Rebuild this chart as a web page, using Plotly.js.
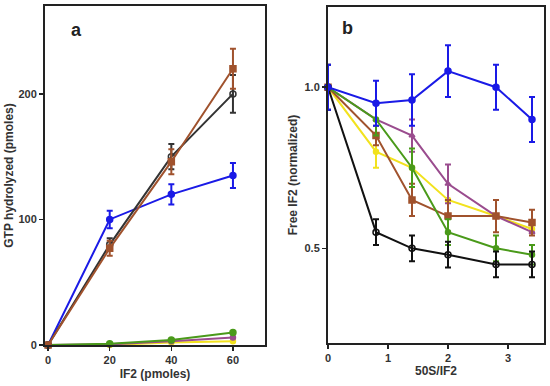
<!DOCTYPE html>
<html><head><meta charset="utf-8">
<script src="https://cdn.plot.ly/plotly-3.0.1.min.js"></script>
<style>html,body{margin:0;padding:0;background:#fff}#c{width:550px;height:386px}</style>
</head><body><div id="c"></div>
<script>
// Panel a
const xA = [0, 20, 40, 60];
const aBlue = [0, 100, 120, 135];
const aBlueErr = [0, 7, 8, 10];
const aBrown = [0, 77, 146, 220];
const aBrownErr = [0, 6, 10, 16];
const aBlack = [0, 80, 150, 200];
const aBlackErr = [0, 5, 10, 15];
const aGreen = [0, 1, 4, 10];
const aPurple = [0, 0.5, 3, 6];
const aYellow = [0, 0, 2, 3];

// Panel b
const xB = [0, 0.8, 1.4, 2, 2.8, 3.4];
const bBlue = [1.0, 0.95, 0.96, 1.05, 1.0, 0.90];
const bBlueErr = [0.07, 0.07, 0.08, 0.08, 0.07, 0.07];
const bBlack = [1.0, 0.55, 0.50, 0.48, 0.45, 0.45];
const bBlackErr = [0.07, 0.04, 0.04, 0.04, 0.04, 0.04];
const bGreen = [1.0, 0.90, 0.75, 0.55, 0.50, 0.48];
const bGreenErr = [0, 0.05, 0.06, 0.04, 0.04, 0.03];
const bYellow = [1.0, 0.80, 0.75, 0.65, 0.60, 0.56];
const bYellowErr = [0, 0.05, 0, 0, 0, 0];
const bBrown = [1.0, 0.85, 0.65, 0.60, 0.60, 0.58];
const bBrownErr = [0, 0.03, 0.05, 0.05, 0.05, 0.04];
const bPurple = [1.0, 0.90, 0.85, 0.70, 0.60, 0.55];
const bPurpleErr = [0, 0, 0.05, 0.06, 0, 0];

const C = {blue:'#1a1ae6', black:'#111111', green:'#4a9a1a', yellow:'#f2e21e', brown:'#a0522d', purple:'#9a4c8e', red:'#e02020'};

function tr(x, y, err, color, sym, xa, ya, msize) {
  const t = {x:x, y:y, xaxis:xa, yaxis:ya, type:'scatter', mode:'lines+markers',
    line:{color:color, width:2},
    marker:{color:color, symbol:sym, size:msize||6, line:{color:color, width:1.5}},
    showlegend:false, cliponaxis:false};
  if (err) t.error_y = {type:'data', array:err, visible:true, color:color, thickness:2, width:3};
  return t;
}

const data = [
  tr(xA, aYellow, null, C.yellow, 'circle', 'x', 'y', 5),
  tr(xA, aPurple, null, C.purple, 'circle', 'x', 'y', 5),
  tr(xA, aGreen, null, C.green, 'circle', 'x', 'y', 6),
  tr(xA, aBlue, aBlueErr, C.blue, 'circle', 'x', 'y', 6),
  tr(xA, aBlack, aBlackErr, '#333333', 'circle-open', 'x', 'y', 6),
  tr(xA, aBrown, aBrownErr, C.brown, 'square', 'x', 'y', 6),

  tr(xB, bYellow, bYellowErr, C.yellow, 'circle', 'x2', 'y2', 5),
  tr(xB, bPurple, bPurpleErr, C.purple, 'triangle-up', 'x2', 'y2', 5),
  tr(xB, bBrown, bBrownErr, C.brown, 'square', 'x2', 'y2', 6),
  tr(xB, bGreen, bGreenErr, C.green, 'circle', 'x2', 'y2', 5),
  tr(xB, bBlack, bBlackErr, C.black, 'circle-open', 'x2', 'y2', 6),
  tr(xB, bBlue, bBlueErr, C.blue, 'circle', 'x2', 'y2', 6)
];

const tickFont = {family:'Liberation Sans, Arial, sans-serif', size:11, color:'#333', weight:'bold'};
const titleFont = {family:'Liberation Sans, Arial, sans-serif', size:12, color:'#333', weight:'bold'};
function ax(extra) {
  return Object.assign({showline:true, linecolor:'#222', linewidth:2, mirror:true,
    ticks:'outside', ticklen:4, tickwidth:1.5, tickcolor:'#222', showgrid:false, zeroline:false,
    tickfont:tickFont, fixedrange:true}, extra);
}

const layout = {
  width:550, height:386, margin:{l:0, r:0, t:0, b:0},
  paper_bgcolor:'#fff', plot_bgcolor:'#fff',
  xaxis: ax({domain:[45/550, 265/550], range:[-1, 70.4], tickvals:[0,20,40,60],
    title:{text:'IF2 (pmoles)', font:titleFont, standoff:4}, anchor:'y'}),
  yaxis: ax({domain:[1-345/386, 1-6/386], range:[0, 270], tickvals:[0,100,200],
    title:{text:'GTP hydrolyzed (pmoles)', font:titleFont, standoff:2}, anchor:'x'}),
  xaxis2: ax({domain:[328/550, 544/550], range:[0, 3.6], tickvals:[0,1,2,3],
    title:{text:'50S/IF2', font:titleFont, standoff:3}, anchor:'y2'}),
  yaxis2: ax({domain:[1-343/386, 1-7/386], range:[0.206, 1.249], tickvals:[0.5,1.0], ticktext:['0.5','1.0'],
    title:{text:'Free IF2 (normalized)', font:titleFont, standoff:4}, anchor:'x2'}),
  annotations:[
    {text:'a', xref:'paper', yref:'paper', x:69/550, y:1-30/386, yanchor:'middle', showarrow:false,
     font:{family:'Liberation Sans, Arial, sans-serif', size:18, color:'#222', weight:'bold'}},
    {text:'b', xref:'paper', yref:'paper', x:347/550, y:1-28/386, yanchor:'middle', showarrow:false,
     font:{family:'Liberation Sans, Arial, sans-serif', size:18, color:'#222', weight:'bold'}}
  ]
};

Plotly.newPlot('c', data, layout, {staticPlot:true, displayModeBar:false});
</script>
</body></html>
